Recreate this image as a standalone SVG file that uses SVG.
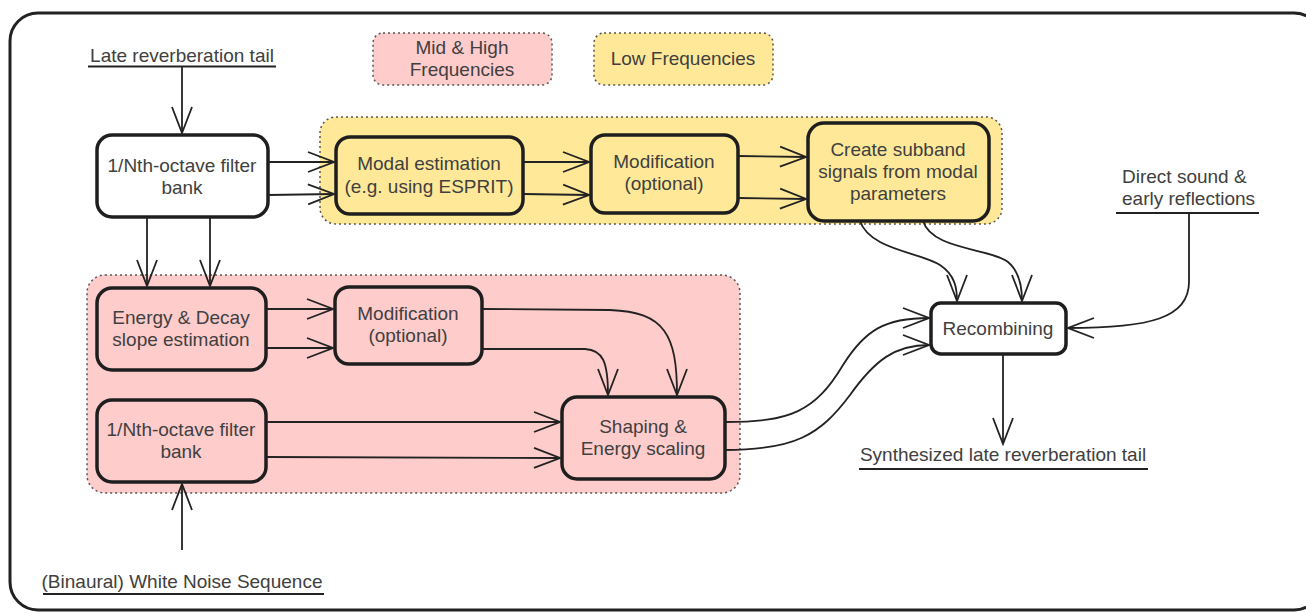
<svg xmlns="http://www.w3.org/2000/svg" width="1306" height="613" viewBox="0 0 1306 613">
<defs>
<style>
.t{font-family:"Liberation Sans",Arial,sans-serif;font-size:19px;fill:#404040;text-anchor:middle}
.tl{font-family:"Liberation Sans",Arial,sans-serif;font-size:19px;fill:#404040}
.node{stroke:#1e1e1e;stroke-width:3.5}
.wh{fill:#ffffff}
.ye{fill:#ffe999}
.pk{fill:#ffcccc}
.grp{stroke:#555;stroke-width:1.5;stroke-dasharray:2 3}
.c{fill:none;stroke:#222;stroke-width:1.8}
.ul{stroke:#222;stroke-width:2}
</style>
<marker id="arr" viewBox="-28 -12 30 24" refX="0" refY="0" markerWidth="30" markerHeight="24" markerUnits="userSpaceOnUse" orient="auto">
<path d="M-26,-10 L0,0 L-26,10" fill="none" stroke="#222" stroke-width="1.8"/>
</marker>
</defs>
<rect x="10" y="13" width="1312" height="597" rx="28" fill="#fff" stroke="#222" stroke-width="3"/>

<g id="groups">
<rect id="grp-low" x="320" y="117" width="682" height="107" rx="16" class="ye grp"/>
<rect id="grp-mid" x="87" y="275" width="653" height="218" rx="18" class="pk grp"/>
</g>

<g id="legend-mid">
<rect x="373" y="33" width="179" height="52" rx="10" class="pk grp"/>
<text class="t" x="462" y="54">Mid &amp; High</text>
<text class="t" x="462" y="76">Frequencies</text>
</g>
<g id="legend-low">
<rect x="594" y="33" width="179" height="52" rx="10" class="ye grp"/>
<text class="t" x="683" y="65">Low Frequencies</text>
</g>

<g id="in-late">
<text class="t" x="182" y="62">Late reverberation tail</text>
<line x1="88" y1="66.5" x2="276" y2="66.5" class="ul"/>
</g>
<g id="in-direct">
<text class="tl" x="1122" y="183">Direct sound &amp;</text>
<text class="tl" x="1122" y="205">early reflections</text>
<line x1="1116" y1="213" x2="1259" y2="213" class="ul"/>
</g>
<g id="in-noise">
<text class="t" x="182" y="588">(Binaural) White Noise Sequence</text>
<line x1="43" y1="594" x2="324" y2="594" class="ul"/>
</g>
<g id="out-synth">
<text class="t" x="1003" y="461">Synthesized late reverberation tail</text>
<line x1="859" y1="469" x2="1148" y2="469" class="ul"/>
</g>

<g id="fb1">
<rect x="97" y="135" width="171" height="82" rx="15" class="node wh"/>
<text class="t" x="182" y="172">1/Nth-octave filter</text>
<text class="t" x="182" y="194">bank</text>
</g>
<g id="modal">
<rect x="336" y="137" width="187" height="77" rx="14" class="node ye"/>
<text class="t" x="429" y="170">Modal estimation</text>
<text class="t" x="429" y="193">(e.g. using ESPRIT)</text>
</g>
<g id="mod-low">
<rect x="591" y="135" width="147" height="78" rx="14" class="node ye"/>
<text class="t" x="664" y="168">Modification</text>
<text class="t" x="664" y="190">(optional)</text>
</g>
<g id="create">
<rect x="808" y="123" width="181" height="98" rx="16" class="node ye"/>
<text class="t" x="898" y="156">Create subband</text>
<text class="t" x="898" y="178">signals from modal</text>
<text class="t" x="898" y="200">parameters</text>
</g>
<g id="energy">
<rect x="97" y="288" width="169" height="82" rx="15" class="node pk"/>
<text class="t" x="181" y="324">Energy &amp; Decay</text>
<text class="t" x="181" y="346">slope estimation</text>
</g>
<g id="mod-mid">
<rect x="335" y="287" width="147" height="77" rx="14" class="node pk"/>
<text class="t" x="408" y="320">Modification</text>
<text class="t" x="408" y="342">(optional)</text>
</g>
<g id="fb2">
<rect x="97" y="400" width="169" height="82" rx="15" class="node pk"/>
<text class="t" x="181" y="436">1/Nth-octave filter</text>
<text class="t" x="181" y="458">bank</text>
</g>
<g id="shaping">
<rect x="562" y="397" width="163" height="82" rx="15" class="node pk"/>
<text class="t" x="643" y="433">Shaping &amp;</text>
<text class="t" x="643" y="455">Energy scaling</text>
</g>
<g id="recomb">
<rect x="931" y="303" width="135" height="51" rx="10" class="node wh"/>
<text class="t" x="998" y="335">Recombining</text>
</g>

<g id="connectors" marker-end="url(#arr)">
<path class="c" d="M182,67 L182,133" marker-end="url(#arr)"/>
<path class="c" d="M268,162 L334,162" marker-end="url(#arr)"/>
<path class="c" d="M268,195 L334,194" marker-end="url(#arr)"/>
<path class="c" d="M523,162 L589,162" marker-end="url(#arr)"/>
<path class="c" d="M523,194 L589,195" marker-end="url(#arr)"/>
<path class="c" d="M738,156 L806,157" marker-end="url(#arr)"/>
<path class="c" d="M738,198 L806,199" marker-end="url(#arr)"/>
<path class="c" d="M147,217 L147,286" marker-end="url(#arr)"/>
<path class="c" d="M210,217 L210,286" marker-end="url(#arr)"/>
<path class="c" d="M266,309 L333,309" marker-end="url(#arr)"/>
<path class="c" d="M266,348 L333,348" marker-end="url(#arr)"/>
<path class="c" d="M266,422 L560,422" marker-end="url(#arr)"/>
<path class="c" d="M266,457 L560,458" marker-end="url(#arr)"/>
<path class="c" d="M482,309 L610,310 C665,312 677,335 677,395" marker-end="url(#arr)"/>
<path class="c" d="M482,349 L585,349 C603,350 608,362 608,395" marker-end="url(#arr)"/>
<path class="c" d="M182,550 L182,484" marker-end="url(#arr)"/>
<path class="c" d="M860,221 C870,250 920,252 940,265 C955,275 957,288 957,301" marker-end="url(#arr)"/>
<path class="c" d="M923,221 C932,250 990,248 1008,262 C1020,272 1022,288 1022,301" marker-end="url(#arr)"/>
<path class="c" d="M1189,214 L1189,282 C1189,318 1150,328 1068,328" marker-end="url(#arr)"/>
<path class="c" d="M725,422 C790,422 815,412 843,365 C865,330 885,318 929,318" marker-end="url(#arr)"/>
<path class="c" d="M725,450 C795,450 820,435 850,395 C875,360 895,345 929,345" marker-end="url(#arr)"/>
<path class="c" d="M1003,354 L1003,444" marker-end="url(#arr)"/>
</g>
</svg>
